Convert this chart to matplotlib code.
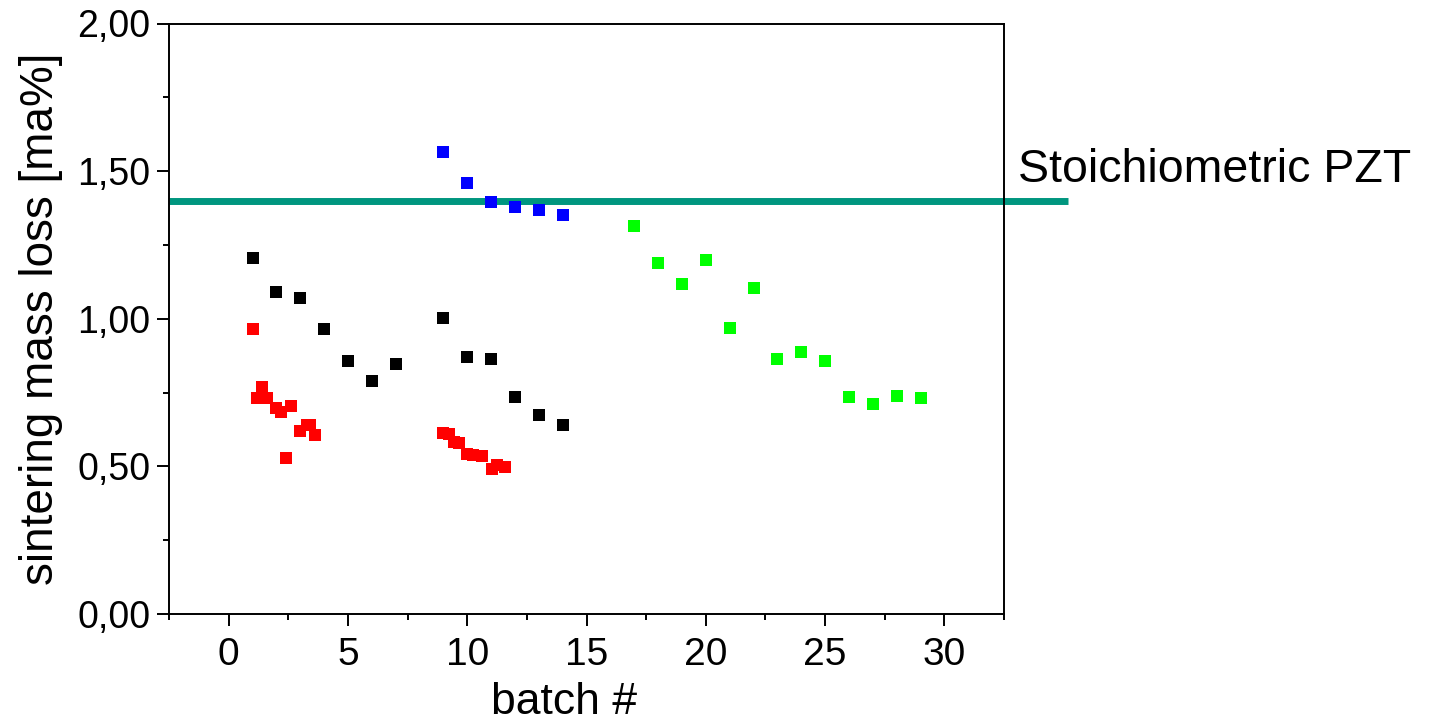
import matplotlib
matplotlib.use("Agg")
import matplotlib.pyplot as plt
from matplotlib.ticker import MultipleLocator, FuncFormatter
from matplotlib import font_manager

# ---- data ----
black_x = [1, 2, 3, 4, 5, 6, 7, 9, 10, 11, 12, 13, 14]
black_y = [1.207, 1.09, 1.07, 0.966, 0.858, 0.79, 0.847, 1.003, 0.871, 0.864, 0.736, 0.675, 0.641]

blue_x = [9, 10, 11, 12, 13, 14]
blue_y = [1.566, 1.461, 1.397, 1.38, 1.37, 1.353]

green_x = [17, 18, 19, 20, 21, 22, 23, 24, 25, 26, 27, 28, 29]
green_y = [1.315, 1.19, 1.119, 1.2, 0.969, 1.105, 0.864, 0.888, 0.858, 0.736, 0.712, 0.739, 0.732]

red_x = [1.0, 1.2, 1.4, 1.6, 2.0, 2.2, 2.4, 2.6, 3.0, 3.3, 3.4, 3.6,
         9.0, 9.25, 9.45, 9.65, 10.0, 10.25, 10.6, 11.05, 11.25, 11.6]
red_y = [0.966, 0.733, 0.770, 0.733, 0.697, 0.685, 0.529, 0.704, 0.620, 0.640, 0.639, 0.606,
         0.612, 0.610, 0.584, 0.580, 0.542, 0.538, 0.535, 0.490, 0.505, 0.499]

stoich_value = 1.40
stoich_label = "Stoichiometric PZT"
xlabel = "batch #"
ylabel = "sintering mass loss [ma%]"

# ---- fonts ----
avail = {f.name for f in font_manager.fontManager.ttflist}
base = ["Liberation Sans", "DejaVu Sans"]
narrow = (["Liberation Sans Narrow"] if "Liberation Sans Narrow" in avail else []) + base
plt.rcParams["font.family"] = base

fig = plt.figure(figsize=(14.39, 7.21), dpi=100)
ax = fig.add_axes([169 / 1439, 1 - 614 / 721, (1004 - 169) / 1439, (614 - 23.5) / 721])

ms = 9
ax.plot(black_x, black_y, "s", color="black", ms=ms, mew=0, zorder=3)
ax.plot(red_x, red_y, "s", color="#FF0000", ms=ms, mew=0, zorder=3)
ax.plot(blue_x, blue_y, "s", color="#0000FF", ms=ms, mew=0, zorder=3)
ax.plot(green_x, green_y, "s", color="#00FF00", ms=ms, mew=0, zorder=3)

ax.plot([-2.5, 35.2], [stoich_value, stoich_value], color="#00967F", lw=5,
        solid_capstyle="butt", clip_on=False, zorder=2)
ax.text(33.1, 1.505, stoich_label, fontsize=33.5, ha="left", va="center")

ax.set_xlim(-2.5, 32.5)
ax.set_ylim(0, 2.0)

ax.xaxis.set_major_locator(MultipleLocator(5))
ax.xaxis.set_minor_locator(MultipleLocator(2.5))
ax.yaxis.set_major_locator(MultipleLocator(0.5))
ax.yaxis.set_minor_locator(MultipleLocator(0.25))
ax.yaxis.set_major_formatter(FuncFormatter(lambda v, p: f"{v:.2f}".replace(".", ",")))

ax.tick_params(which="both", direction="out", width=1.4, top=False, right=False)
ax.tick_params(which="major", length=8.5)
ax.tick_params(which="minor", length=4.5)
ax.tick_params(axis="y", labelsize=27, pad=5)
ax.tick_params(axis="x", labelsize=28, pad=8)
for lab in ax.get_xticklabels():
    lab.set_family(narrow)

for s in ax.spines.values():
    s.set_linewidth(1.4)

ax.set_xlabel(xlabel, fontsize=32, family=narrow)
ax.xaxis.set_label_coords(0.473, -0.115)
ax.set_ylabel(ylabel, fontsize=33, labelpad=10)

fig.savefig("out.png", dpi=100)
